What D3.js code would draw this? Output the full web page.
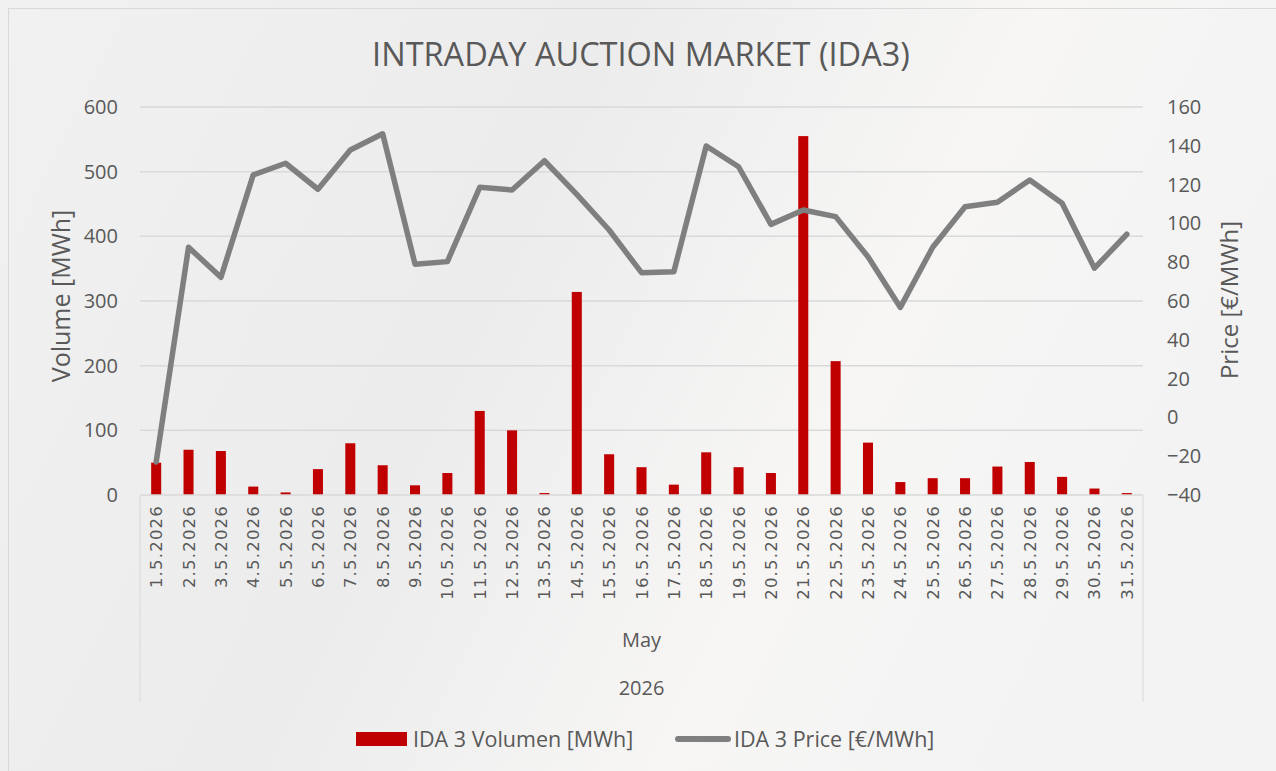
<html>
  <meta charset="utf-8" />
  <script src="https://d3js.org/d3.v7.min.js"></script>
  <style>
    body { margin: 0; background: #f2f2f2; }
    svg { display: block; }
    text { font-family: "Open Sans", sans-serif; fill: #595959; }
  </style>
  <body>
    <svg width="1276" height="771" id="chart"></svg>
    <script>
      // data
      const days = [
        "1.5.2026", "2.5.2026", "3.5.2026", "4.5.2026", "5.5.2026", "6.5.2026",
        "7.5.2026", "8.5.2026", "9.5.2026", "10.5.2026", "11.5.2026", "12.5.2026",
        "13.5.2026", "14.5.2026", "15.5.2026", "16.5.2026", "17.5.2026", "18.5.2026",
        "19.5.2026", "20.5.2026", "21.5.2026", "22.5.2026", "23.5.2026", "24.5.2026",
        "25.5.2026", "26.5.2026", "27.5.2026", "28.5.2026", "29.5.2026", "30.5.2026",
        "31.5.2026"
      ];
      const volume = [
        50, 70, 68, 13, 4, 40, 80, 46, 15, 34, 130, 100, 3, 314, 63, 43,
        16, 66, 43, 34, 555, 207, 81, 20, 26, 26, 44, 51, 28, 10, 3
      ];
      const price = [
        -23, 87.7, 72.2, 125, 131, 117.6, 137.8, 146.2, 79, 80.3, 118.6, 117.2,
        132.3, 115, 96.6, 74.6, 75.1, 139.9, 129.2, 99.5, 106.9, 103.5, 82.8,
        56.7, 87.7, 108.6, 110.9, 122.4, 110.4, 76.9, 94.4
      ];
      const volTicks = [0, 100, 200, 300, 400, 500, 600];
      const priceTicks = [-40, -20, 0, 20, 40, 60, 80, 100, 120, 140, 160];
      const monthLabel = "May";
      const yearLabel = "2026";

      const svg = d3.select("#chart");
      const plotL = 140, plotR = 1143, plotT = 107, plotB = 495;

      // background
      const defs = svg.append("defs");
      const grad = defs.append("linearGradient").attr("id", "bg")
        .attr("x1", "0").attr("y1", "0").attr("x2", "1").attr("y2", "0.3");
      grad.append("stop").attr("offset", "0").attr("stop-color", "#f1f1f1");
      grad.append("stop").attr("offset", "0.45").attr("stop-color", "#ececec");
      grad.append("stop").attr("offset", "0.75").attr("stop-color", "#f7f6f5");
      grad.append("stop").attr("offset", "1").attr("stop-color", "#f3f3f3");
      svg.append("rect").attr("width", 1276).attr("height", 771).attr("fill", "url(#bg)");
      svg.append("rect").attr("x", 8.5).attr("y", 8.5).attr("width", 1280).attr("height", 780)
        .attr("fill", "none").attr("stroke", "#d9d9d9");

      const x = d3.scaleBand().domain(days).range([plotL, plotR]).paddingInner(0.69).paddingOuter(0.345);
      const xc = d3.scaleBand().domain(days).range([plotL, plotR]);
      const yV = d3.scaleLinear().domain([0, 600]).range([plotB, plotT]);
      const yP = d3.scaleLinear().domain([-40, 160]).range([plotB, plotT]);

      // grid
      svg.append("g").selectAll("line").data(volTicks.slice(1)).join("line")
        .attr("x1", plotL).attr("x2", plotR)
        .attr("y1", (d) => yV(d)).attr("y2", (d) => yV(d))
        .attr("stroke", "#d9d9d9").attr("stroke-width", 1.5);

      // left axis
      const axL = svg.append("g").attr("transform", `translate(${plotL},0)`)
        .call(d3.axisLeft(yV).tickValues(volTicks).tickSize(0).tickPadding(22));
      axL.select(".domain").remove();
      axL.selectAll("text").style("font-size", "20px").style("fill", "#595959")
        .style("font-family", "Open Sans");

      // right axis
      const axR = svg.append("g").attr("transform", `translate(${plotR},0)`)
        .call(d3.axisRight(yP).tickValues(priceTicks).tickSize(0).tickPadding(24));
      axR.select(".domain").remove();
      axR.selectAll("text").style("font-size", "20px").style("fill", "#595959")
        .style("font-family", "Open Sans");

      // bars
      svg.append("g").selectAll("rect").data(volume).join("rect")
        .attr("x", (d, i) => x(days[i]))
        .attr("y", (d) => yV(d))
        .attr("width", x.bandwidth())
        .attr("height", (d) => plotB - yV(d))
        .attr("fill", "#c00000");

      // bottom axis line and category boxes
      svg.append("line").attr("x1", plotL).attr("x2", plotR)
        .attr("y1", plotB).attr("y2", plotB)
        .attr("stroke", "#d9d9d9").attr("stroke-width", 1.5);
      [plotL, plotR].forEach((xx) => {
        svg.append("line").attr("x1", xx).attr("x2", xx)
          .attr("y1", plotB).attr("y2", 702)
          .attr("stroke", "#d9d9d9").attr("stroke-width", 1);
      });

      // x labels
      svg.append("g").selectAll("text").data(days).join("text")
        .attr("transform", (d) => `translate(${xc(d) + xc.bandwidth() / 2 + 6},505) rotate(-90)`)
        .attr("text-anchor", "end")
        .style("font-size", "16.5px")
        .style("font-family", "DejaVu Sans")
        .style("letter-spacing", "1.2px")
        .text((d) => d);

      svg.append("text").attr("x", (plotL + plotR) / 2).attr("y", 647)
        .attr("text-anchor", "middle").style("font-size", "20px").text(monthLabel);
      svg.append("text").attr("x", (plotL + plotR) / 2).attr("y", 695)
        .attr("text-anchor", "middle").style("font-size", "20px").text(yearLabel);

      // price line
      const line = d3.line()
        .x((d, i) => xc(days[i]) + xc.bandwidth() / 2)
        .y((d) => yP(d));
      svg.append("path").datum(price).attr("d", line)
        .attr("fill", "none").attr("stroke", "#7f7f7f").attr("stroke-width", 5.5)
        .attr("stroke-linejoin", "round").attr("stroke-linecap", "round");

      // titles
      svg.append("text").attr("x", 641).attr("y", 66).attr("text-anchor", "middle")
        .style("font-size", "32.5px").text("INTRADAY AUCTION MARKET (IDA3)");
      svg.append("text").attr("transform", "translate(70,296) rotate(-90)")
        .attr("text-anchor", "middle").style("font-size", "25px").text("Volume [MWh]");
      svg.append("text").attr("transform", "translate(1238,300) rotate(-90)")
        .attr("text-anchor", "middle").style("font-size", "24px").text("Price [€/MWh]");

      // legend
      const lg = svg.append("g");
      lg.append("rect").attr("x", 356).attr("y", 732).attr("width", 51).attr("height", 14)
        .attr("fill", "#c00000");
      lg.append("text").attr("x", 413).attr("y", 747).style("font-size", "21.5px")
        .text("IDA 3 Volumen [MWh]");
      lg.append("line").attr("x1", 678).attr("x2", 728).attr("y1", 739).attr("y2", 739)
        .attr("stroke", "#7f7f7f").attr("stroke-width", 6).attr("stroke-linecap", "round");
      lg.append("text").attr("x", 734).attr("y", 747).style("font-size", "21.5px")
        .text("IDA 3 Price [€/MWh]");
    </script>
  </body>
</html>
